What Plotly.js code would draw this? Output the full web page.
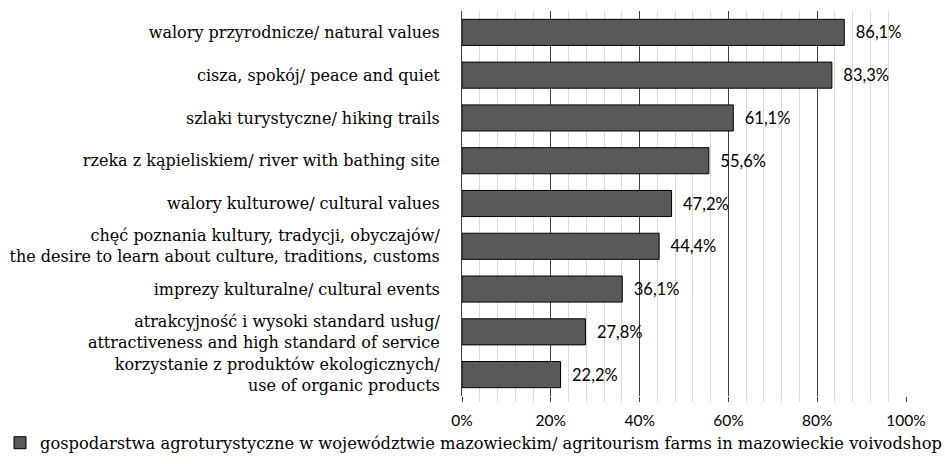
<!DOCTYPE html>
<html>
<head>
<meta charset="utf-8">
<script src="https://cdn.plot.ly/plotly-3.0.1.min.js"></script>
<style>html,body{margin:0;padding:0;background:#fff;}#chart{width:945px;height:464px;}</style>
</head>
<body>
<div id="chart"></div>
<script>
// Data (top to bottom as shown)
const categories = [
  "walory przyrodnicze/ natural values",
  "cisza, spokój/ peace and quiet",
  "szlaki turystyczne/ hiking trails",
  "rzeka z kąpieliskiem/ river with bathing site",
  "walory kulturowe/ cultural values",
  "chęć poznania kultury, tradycji, obyczajów/<br>the desire to learn about culture, traditions, customs",
  "imprezy kulturalne/ cultural events",
  "atrakcyjność i wysoki standard usług/<br>attractiveness and high standard of service",
  "korzystanie z produktów ekologicznych/<br>use of organic products"
];
const values = [86.1, 83.3, 61.1, 55.6, 47.2, 44.4, 36.1, 27.8, 22.2];
const seriesName = "gospodarstwa agroturystyczne w województwie mazowieckim/ agritourism farms in mazowieckie voivodshop";
const tickVals = [0, 20, 40, 60, 80, 100];
const tickText = ["0%", "20%", "40%", "60%", "80%", "100%"];

const serif = "DejaVu Serif, serif";
const sans = "Lato, Carlito, sans-serif";

const trace = {
  type: "bar",
  orientation: "h",
  y: categories,
  x: values,
  name: seriesName,
  marker: {color: "#595959", line: {color: "#000000", width: 1}},
  texttemplate: "\u00a0\u00a0%{x:.1f}%",
  textposition: "outside",
  cliponaxis: false,
  textfont: {family: sans, size: 16.5, color: "#000"},
  showlegend: true,
  hoverinfo: "skip"
};

const layout = {
  width: 945, height: 464,
  margin: {l: 462, r: 39, t: 11, b: 68, pad: 0, autoexpand: false},
  paper_bgcolor: "#fff", plot_bgcolor: "#fff",
  separators: ", ",
  bargap: 0.39,
  showlegend: true,
  legend: {orientation: "h", x: -0.004, xanchor: "left", xref: "container", y: 0.045, yanchor: "middle", yref: "container",
           bgcolor: "rgba(0,0,0,0)",
           font: {family: serif, size: 16.3, color: "#000"}, itemwidth: 30, traceorder: "normal"},
  xaxis: {
    range: [0, 100], tickvals: tickVals, ticktext: tickText,
    showgrid: true, gridcolor: "#404040", gridwidth: 1,
    zeroline: false, showline: false,
    ticks: "outside", ticklen: 5, tickcolor: "#404040",
    ticklabelstandoff: 5,
    tickfont: {family: sans, size: 15.5, color: "#000"},
    minor: {dtick: 4, tick0: 0, showgrid: true, gridcolor: "#d9d9d9", gridwidth: 1, ticks: "outside", ticklen: 5, tickcolor: "#d9d9d9"},
    fixedrange: true
  },
  yaxis: {
    autorange: "reversed", type: "category",
    showgrid: false, zeroline: false,
    showline: true, linecolor: "#404040", linewidth: 1,
    ticks: "", ticklabelstandoff: 18,
    tickfont: {family: serif, size: 16, color: "#000"},
    fixedrange: true
  }
};

Plotly.newPlot("chart", [trace], layout, {displayModeBar: false, staticPlot: true});
</script>
</body>
</html>
